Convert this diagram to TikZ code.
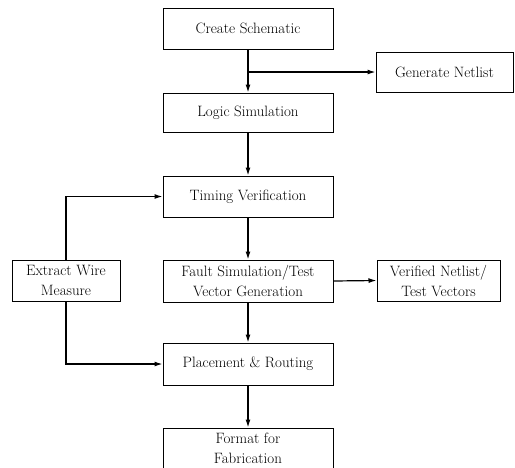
\documentclass[tikz,border=0pt]{standalone}
\usetikzlibrary{arrows.meta}
\begin{document}
\begin{tikzpicture}[x=1pt,y=-1pt,
  box/.style={draw,line width=1pt,rectangle,inner sep=0pt,align=center,
    font=\fontsize{15}{20}\selectfont},
  conn/.style={line width=1.2pt,-{Latex[length=8pt,width=5pt]}}]
\useasboundingbox (0,0) rectangle (515,467);
\node[box,minimum width=170pt,minimum height=41pt] (create) at (248,28.5) {Create Schematic};
\node[box,minimum width=137pt,minimum height=40pt] (gen) at (444.5,72) {Generate Netlist};
\node[box,minimum width=170pt,minimum height=39pt] (logic) at (248,112.5) {Logic Simulation};
\node[box,minimum width=170pt,minimum height=41pt] (timing) at (248,196.5) {Timing Verification};
\node[box,minimum width=170pt,minimum height=42pt] (fault) at (248,281) {Fault Simulation/Test\\Vector Generation};
\node[box,minimum width=123pt,minimum height=41pt] (verified) at (438.5,280.5) {Verified Netlist/\\Test Vectors};
\node[box,minimum width=108pt,minimum height=41pt] (extract) at (66,280.5) {Extract Wire\\Measure};
\node[box,minimum width=170pt,minimum height=42pt] (place) at (248,364) {Placement \& Routing};
\node[box,minimum width=170pt,minimum height=40pt] (format) at (248,448) {Format for\\Fabrication};
\draw[conn] (create.south) -- (logic.north);
\coordinate (br) at (create.south |- gen.west);
\draw[conn] (br) -- (gen.west);
\draw[conn] (logic.south) -- (timing.north);
\draw[conn] (timing.south) -- (fault.north);
\draw[conn] (fault.south) -- (place.north);
\draw[conn] (place.south) -- (format.north);
\draw[conn] (fault.east) -- (verified.west);
\draw[conn] (extract.north) |- (timing.west);
\draw[conn] (extract.south) |- (place.west);
\end{tikzpicture}
\end{document}
